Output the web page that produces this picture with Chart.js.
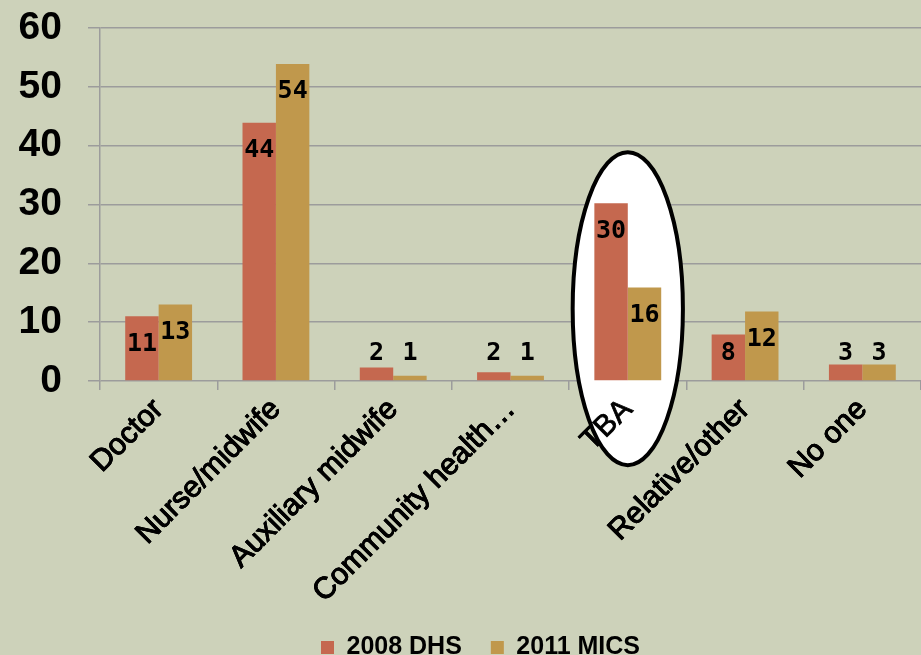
<!DOCTYPE html>
<html>
<head>
<meta charset="utf-8">
<script src="https://cdn.jsdelivr.net/npm/chart.js@4/dist/chart.umd.min.js"></script>
<style>
  html, body { margin: 0; padding: 0; background: #CDD2BA; }
  canvas { display: block; }
</style>
</head>
<body>
<canvas id="myChart" width="921" height="655"></canvas>
<script>
const categories = ['Doctor', 'Nurse/midwife', 'Auxiliary midwife', 'Community health\u2026', 'TBA', 'Relative/other', 'No one'];
const dhs2008 = [11, 43.9, 2.3, 1.5, 30.2, 7.9, 2.8];
const mics2011 = [13, 53.9, 0.9, 0.9, 15.9, 11.8, 2.8];
const yTicks = [0, 10, 20, 30, 40, 50, 60];

const GRID = '#9c9c9c';

// white ellipse behind the TBA bars, labels redrawn on top of it
const ringPlugin = {
  id: 'ring',
  beforeDatasetsDraw(chart) {
    const { ctx, scales: { x, y } } = chart;
    const cx = x.getPixelForValue(4);
    const rx = x.getPixelForValue(4.47) - cx;
    const cy = y.getPixelForValue(12.3);
    const ry = y.getPixelForValue(0) - y.getPixelForValue(26.6);
    ctx.save();
    ctx.beginPath();
    ctx.ellipse(cx, cy, rx, ry, 0, 0, Math.PI * 2);
    ctx.fillStyle = '#ffffff';
    ctx.fill();
    ctx.lineWidth = 4;
    ctx.strokeStyle = '#000000';
    ctx.stroke();
    ctx.restore();
    x.drawLabels(chart.chartArea);
  },
};

const valueLabels = {
  id: 'valueLabels',
  afterDatasetsDraw(chart) {
    const { ctx } = chart;
    ctx.save();
    ctx.font = 'bold 25px "DejaVu Sans Mono"';
    ctx.fillStyle = '#000';
    ctx.textAlign = 'center';
    ctx.textBaseline = 'middle';
    chart.data.datasets.forEach((ds, i) => {
      chart.getDatasetMeta(i).data.forEach((bar, j) => {
        const ly = Math.min(bar.y + 28, bar.base - 27);
        ctx.fillText(String(Math.round(ds.data[j])), bar.x, ly);
      });
    });
    ctx.restore();
  },
};

// legend sits a little right of the canvas centre
const legendShift = {
  id: 'legendShift',
  afterLayout(chart) {
    chart.legend.left = 40;
  },
};

const data = {
  labels: categories,
  datasets: [
    { label: '2008 DHS', data: dhs2008, backgroundColor: '#C5684F' },
    { label: '2011 MICS', data: mics2011, backgroundColor: '#C0984C' },
  ],
};

const config = {
  type: 'bar',
  data,
  options: {
    responsive: false,
    animation: false,
    devicePixelRatio: 1,
    layout: { padding: { top: 28, right: 0, bottom: -15, left: 0 } },
    datasets: {
      bar: { barPercentage: 1, categoryPercentage: 0.57 },
    },
    plugins: {
      tooltip: { enabled: false },
      legend: {
        position: 'bottom',
        labels: {
          color: '#000',
          boxWidth: 13,
          boxHeight: 13,
          padding: 29,
          font: { family: '"Liberation Sans"', size: 25, weight: 'bold' },
        },
      },
    },
    scales: {
      x: {
        grid: { drawOnChartArea: false, color: GRID, lineWidth: 1.5, tickLength: 9, offset: true },
        border: { display: false },
        ticks: {
          color: '#000',
          minRotation: 45,
          maxRotation: 45,
          autoSkip: false,
          padding: 2,
          textStrokeColor: '#000',
          textStrokeWidth: 0.8,
          font: { family: '"Liberation Sans"', size: 30 },
        },
        afterFit(scale) {
          scale.height = 225;
        },
      },
      y: {
        min: 0,
        max: 60,
        afterBuildTicks(scale) {
          scale.ticks = yTicks.map((v) => ({ value: v }));
        },
        grid: { color: GRID, lineWidth: 1.5, tickLength: 12 },
        border: { color: GRID, width: 1.5 },
        ticks: {
          color: '#000',
          padding: 26,
          font: { family: '"Liberation Sans"', size: 39, weight: 'bold' },
        },
        afterFit(scale) {
          scale.width = 100;
          scale.paddingTop = 0;
          scale.paddingBottom = 0;
        },
      },
    },
  },
  plugins: [ringPlugin, valueLabels, legendShift],
};

const ctx = document.getElementById('myChart');
const chart = new Chart(ctx, config);
</script>
</body>
</html>
